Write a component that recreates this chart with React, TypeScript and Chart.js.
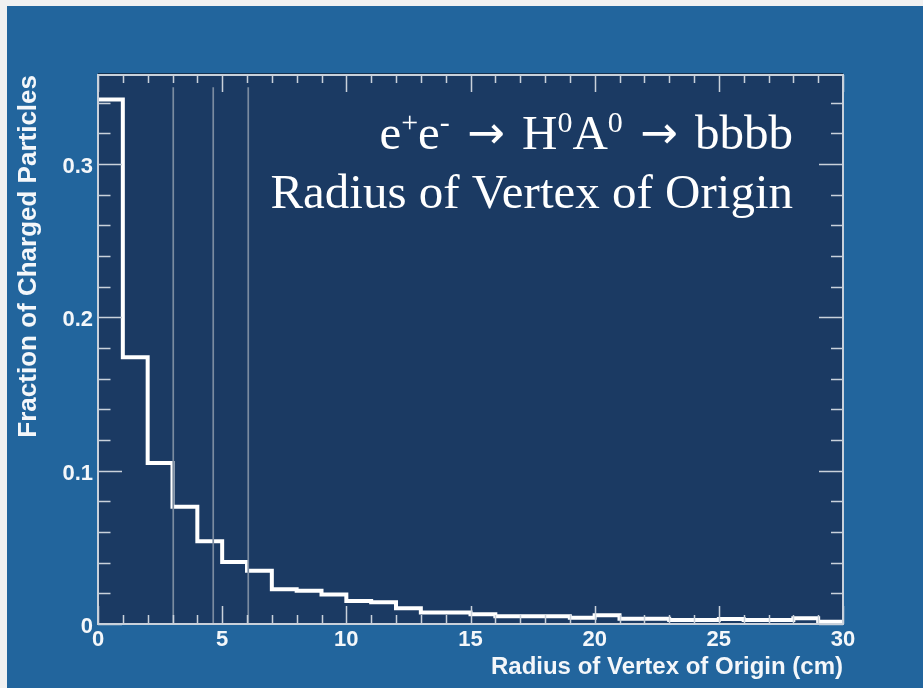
import React, { useEffect, useRef } from 'react';
import { Chart, registerables } from 'chart.js';

Chart.register(...registerables);

// Histogram: lower edge of each 1 cm bin and the fraction of charged particles in it
const binLowEdges = [0, 1, 2, 3, 4, 5, 6, 7, 8, 9, 10, 11, 12, 13, 14, 15, 16, 17, 18, 19, 20, 21, 22, 23, 24, 25, 26, 27, 28, 29];
const binUpperLimit = 30;
const chargedFraction = [
  0.342, 0.174, 0.105, 0.0765, 0.054, 0.0405, 0.0347, 0.0226, 0.0217, 0.0193,
  0.015, 0.0142, 0.0102, 0.0075, 0.0075, 0.0063, 0.005, 0.005, 0.005, 0.0041,
  0.0057, 0.0035, 0.0035, 0.0026, 0.0026, 0.0033, 0.0026, 0.0026, 0.0037, 0.0015,
];

// Detector layer radii (cm), drawn as thin vertical guides
const detectorRadii = [3.03, 4.64, 6.05];
const detectorLineTop = 0.35;

// Axis ticks
const xTickValues = [0, 5, 10, 15, 20, 25, 30];
const yTickValues = [0, 0.1, 0.2, 0.3];
const xMinorStep = 1;
const yMinorStep = 0.02;

const xAxisTitle = 'Radius of Vertex of Origin (cm)';
const yAxisTitle = 'Fraction of Charged Particles';

// Headline pieces: 'sup' raises a smaller glyph, 'arrow' uses a heavier arrow face
const processLine = [
  { text: 'e', kind: 'text' },
  { text: '+', kind: 'sup' },
  { text: 'e', kind: 'text' },
  { text: '-', kind: 'sup' },
  { text: ' ', kind: 'text' },
  { text: '\u2192', kind: 'arrow' },
  { text: ' H', kind: 'text' },
  { text: '0', kind: 'sup' },
  { text: 'A', kind: 'text' },
  { text: '0', kind: 'sup' },
  { text: ' ', kind: 'text' },
  { text: '\u2192', kind: 'arrow' },
  { text: ' bbbb', kind: 'text' },
];
const subtitleLine = 'Radius of Vertex of Origin';

const OUTER_BLUE = '#22659d';
const PLOT_NAVY = '#1b3a63';
const FRAME = '#c9d1db';
const GUIDE = '#7a8ba0';
const TEXT = '#f4f7fa';
const SANS = '"Liberation Sans", Arial, Helvetica, sans-serif';
const SERIF = '"Liberation Serif", "Times New Roman", serif';
const ARROW_SIDE_GAP = 5;

const fontFor = (kind: string) => {
  if (kind === 'sup') return `30px ${SERIF}`;
  if (kind === 'arrow') return `45px "DejaVu Sans", sans-serif`;
  return `49px ${SERIF}`;
};

const framePlugin = {
  id: 'rootFrame',
  beforeDatasetsDraw(chart: any) {
    const { ctx, chartArea: a } = chart;
    ctx.save();
    ctx.fillStyle = PLOT_NAVY;
    ctx.fillRect(a.left, a.top, a.right - a.left, a.bottom - a.top);
    ctx.strokeStyle = '#14304f';
    ctx.lineWidth = 1;
    ctx.beginPath();
    ctx.moveTo(a.left, a.top - 1.5);
    ctx.lineTo(a.right, a.top - 1.5);
    ctx.stroke();
    ctx.restore();
  },
  afterDatasetsDraw(chart: any) {
    const { ctx, chartArea: a, scales } = chart;
    const xs = scales.x;
    const ys = scales.y;
    ctx.save();

    // detector guides
    ctx.strokeStyle = GUIDE;
    ctx.lineWidth = 1.7;
    for (const r of detectorRadii) {
      const px = xs.getPixelForValue(r);
      ctx.beginPath();
      ctx.moveTo(px, ys.getPixelForValue(detectorLineTop));
      ctx.lineTo(px, a.bottom);
      ctx.stroke();
    }

    // tick marks on all four sides, pointing inward
    ctx.strokeStyle = FRAME;
    ctx.lineWidth = 1.5;
    ctx.beginPath();
    for (let v = xs.min; v <= xs.max + 1e-9; v += xMinorStep) {
      const major = xTickValues.some((t) => Math.abs(t - v) < 1e-6);
      const px = Math.round(xs.getPixelForValue(v)) + 0.5;
      ctx.moveTo(px, a.bottom);
      ctx.lineTo(px, a.bottom - (major ? 18 : 9));
      ctx.moveTo(px, a.top);
      ctx.lineTo(px, a.top + (major ? 17 : 8));
    }
    for (let v = ys.min; v <= ys.max + 1e-9; v += yMinorStep) {
      const major = yTickValues.some((t) => Math.abs(t - v) < 1e-6);
      const py = Math.round(ys.getPixelForValue(v)) + 0.5;
      ctx.moveTo(a.left, py);
      ctx.lineTo(a.left + (major ? 24 : 12.5), py);
      ctx.moveTo(a.right, py);
      ctx.lineTo(a.right - (major ? 24 : 12), py);
    }
    ctx.stroke();

    // frame
    ctx.lineWidth = 2;
    ctx.strokeRect(a.left, a.top, a.right - a.left, a.bottom - a.top);

    // headline text, right aligned inside the frame
    const right = a.right - 50;
    const base1 = a.top + 74;
    const base2 = a.top + 133;
    ctx.fillStyle = '#ffffff';
    ctx.textBaseline = 'alphabetic';
    ctx.textAlign = 'left';
    let total = 0;
    const widths = processLine.map((seg) => {
      ctx.font = fontFor(seg.kind);
      const pad = seg.kind === 'arrow' ? ARROW_SIDE_GAP * 2 : 0;
      const w = ctx.measureText(seg.text).width + pad;
      total += w;
      return w;
    });
    let x = right - total;
    processLine.forEach((seg, i) => {
      ctx.font = fontFor(seg.kind);
      const y = seg.kind === 'sup' ? base1 - 17 : seg.kind === 'arrow' ? base1 - 1 : base1;
      const dx = seg.kind === 'arrow' ? ARROW_SIDE_GAP : 0;
      ctx.fillText(seg.text, x + dx, y);
      x += widths[i];
    });
    ctx.font = fontFor('text');
    ctx.textAlign = 'right';
    ctx.fillText(subtitleLine, right, base2);

    ctx.restore();
  },
};

export default function App() {
  const canvasRef = useRef<HTMLCanvasElement>(null);

  useEffect(() => {
    const canvas = canvasRef.current;
    if (!canvas) return;
    const points = binLowEdges.map((x, i) => ({ x, y: chargedFraction[i] }));
    points.push({ x: binUpperLimit, y: chargedFraction[chargedFraction.length - 1] });

    const tickFont = { family: SANS, size: 22, weight: 'bold' as const, lineHeight: 1.2 };
    const xTitleFont = { family: SANS, size: 24, weight: 'bold' as const, lineHeight: 1.2 };
    const yTitleFont = { family: SANS, size: 26, weight: 'bold' as const, lineHeight: 1.2 };

    const chart = new Chart(canvas, {
      type: 'line',
      data: {
        datasets: [
          {
            data: points,
            borderColor: '#ffffff',
            borderWidth: 4,
            stepped: 'before',
            pointRadius: 0,
            fill: false,
            tension: 0,
            borderJoinStyle: 'miter',
          },
        ],
      },
      options: {
        animation: false,
        responsive: false,
        devicePixelRatio: 1,
        layout: { padding: { top: 69, right: 80, left: 0, bottom: 0 } },
        plugins: {
          legend: { display: false },
          tooltip: { enabled: false },
        },
        scales: {
          x: {
            type: 'linear',
            min: 0,
            max: 30,
            afterFit: (s: any) => {
              s.height = 64;
            },
            afterBuildTicks: (s: any) => {
              s.ticks = xTickValues.map((v) => ({ value: v }));
            },
            grid: { display: false, drawTicks: false },
            border: { display: false },
            ticks: {
              color: TEXT,
              font: tickFont,
              padding: 3,
              maxRotation: 0,
              autoSkip: false,
              callback: (v: any) => String(v),
            },
            title: {
              display: true,
              text: xAxisTitle,
              align: 'end',
              color: TEXT,
              font: xTitleFont,
              padding: { top: 0, bottom: 6 },
            },
          },
          y: {
            type: 'linear',
            min: 0,
            max: 0.358,
            afterFit: (s: any) => {
              s.width = 91;
            },
            afterBuildTicks: (s: any) => {
              s.ticks = yTickValues.map((v) => ({ value: v }));
            },
            grid: { display: false, drawTicks: false },
            border: { display: false },
            ticks: {
              color: TEXT,
              font: tickFont,
              padding: 5,
              labelOffset: 3,
              autoSkip: false,
              callback: (v: any) => String(v),
            },
            title: {
              display: true,
              text: yAxisTitle,
              align: 'end',
              color: TEXT,
              font: yTitleFont,
              padding: { top: 6, bottom: 0 },
            },
          },
        },
      },
      plugins: [framePlugin],
    } as any);

    return () => chart.destroy();
  }, []);

  return (
    <div style={{ position: 'fixed', inset: 0, background: '#f1f1f1' }}>
      <div
        style={{
          position: 'absolute',
          left: 7,
          top: 6,
          width: 916,
          height: 682,
          background: OUTER_BLUE,
        }}
      >
        <canvas ref={canvasRef} width={916} height={682} style={{ display: 'block' }} />
      </div>
    </div>
  );
}
